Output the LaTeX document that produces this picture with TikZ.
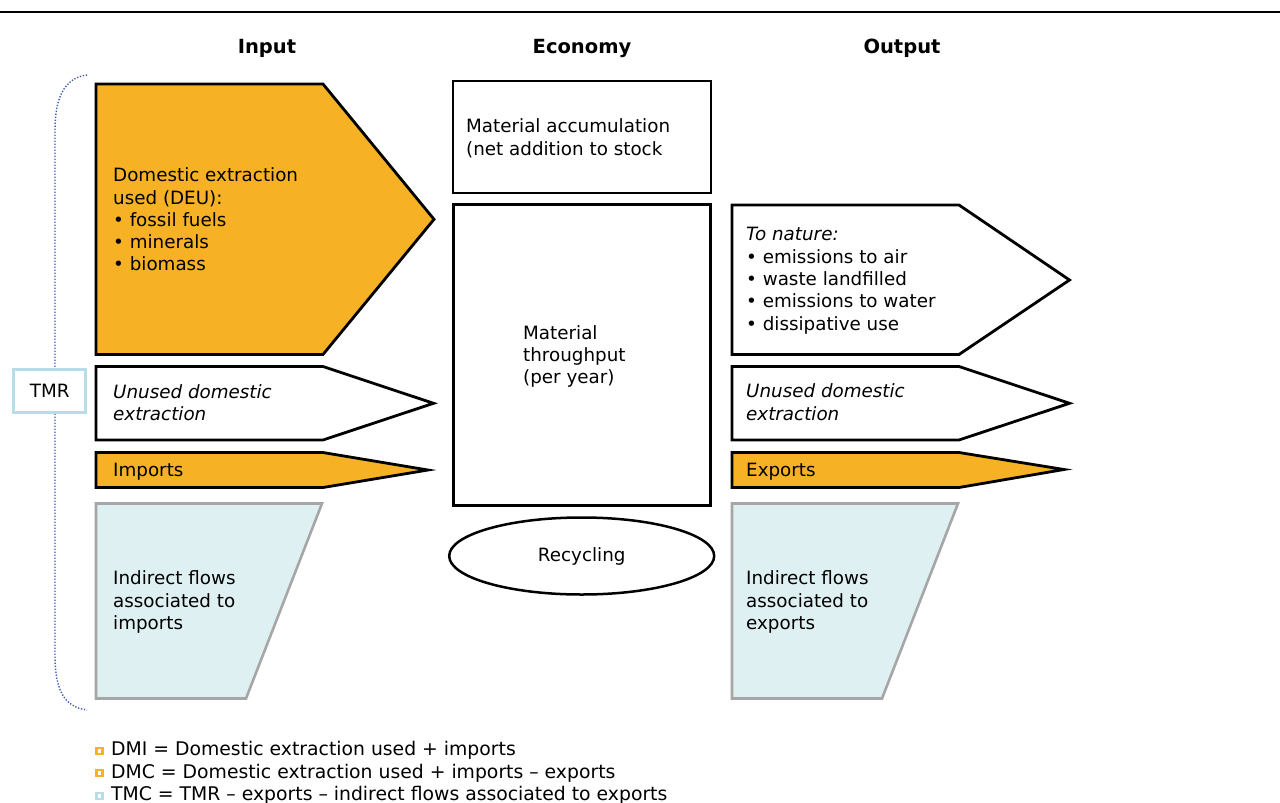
\documentclass[tikz,border=0pt]{standalone}
\usepackage{fontspec}
\setmainfont{DejaVu Sans}
\begin{document}
\begin{tikzpicture}[x=1pt,y=-1pt]
		\tikzstyle{every node}=[font=\fontsize{18.3}{22.3}\selectfont, inner sep=0pt]
		\tikzstyle{orangeflow}=[draw=black, line width=2.8pt, fill={rgb,255:red,246; green,178; blue,36}]
		\tikzstyle{whiteflow}=[draw=black, line width=2.8pt, fill=white]
		\tikzstyle{indirectflow}=[draw={rgb,255:red,166; green,166; blue,166}, line width=2.6pt, fill={rgb,255:red,223; green,240; blue,242}]
		\tikzstyle{flowtext}=[anchor=base west, align=left]
		\tikzstyle{flowitalic}=[anchor=base west, align=left, font=\fontsize{18.3}{22.3}\selectfont\itshape]
		\tikzstyle{heading}=[anchor=base, font=\fontsize{19.5}{22.3}\selectfont\bfseries]
		\tikzstyle{legendtext}=[anchor=base west, font=\fontsize{18.8}{23}\selectfont]
		\useasboundingbox (0,0) rectangle (1280,803);
		\draw [line width=1.5pt] (0,12) -- (1280,12);
		\node [heading] (input) at (267,53.5) {Input};
		\node [heading] (economy) at (582,53.5) {Economy};
		\node [heading] (output) at (902,53.5) {Output};
		\draw [line width=1.4pt, dash pattern=on 1.3pt off 1.7pt, color={rgb,255:red,64; green,88; blue,176}] (87,75) .. controls (63,78) and (55,100) .. (55,130) -- (55,655) .. controls (55,688) and (63,707) .. (87,710);
		\node [draw={rgb,255:red,183; green,222; blue,232}, line width=2.5pt, fill=white, minimum width=72pt, minimum height=43pt] (tmr) at (49.7,390.8) {TMR};
		\draw [orangeflow] (96,84) -- (323,84) -- (434,219.3) -- (323,354.5) -- (96,354.5) -- cycle;
		\draw [whiteflow] (96,366.5) -- (323,366.5) -- (433.5,403.3) -- (323,440) -- (96,440) -- cycle;
		\draw [orangeflow] (96,452.5) -- (323,452.5) -- (428,470) -- (323,487.5) -- (96,487.5) -- cycle;
		\draw [indirectflow] (96,503.5) -- (322,503.5) -- (246,698.5) -- (96,698.5) -- cycle;
		\node [flowtext] (deu) at (113,270.9) {Domestic extraction\\used (DEU):\\• fossil fuels\\• minerals\\• biomass};
		\node [flowitalic] (unusedin) at (113,420.7) {Unused domestic\\extraction};
		\node [flowtext] (imports) at (113,476.7) {Imports};
		\node [flowtext] (indirectin) at (113,629.3) {Indirect flows\\associated to\\imports};
		\draw [line width=2pt] (452.5,80.5) rectangle (711,193);
		\node [flowtext] (accumulation) at (466,155) {Material accumulation\\(net addition to stock};
		\draw [line width=3.8pt] (453.5,204.5) rectangle (710.5,505.5);
		\node [flowtext] (throughput) at (523,383.7) {Material\\throughput\\(per year)};
		\draw [line width=2.5pt] (581.7,556) ellipse (132.5 and 38.5);
		\node [anchor=base] (recycling) at (581.7,561.7) {Recycling};
		\draw [whiteflow] (732,205) -- (959,205) -- (1069.5,280) -- (959,354.5) -- (732,354.5) -- cycle;
		\draw [whiteflow] (732,366.5) -- (959,366.5) -- (1069.5,403.3) -- (959,440) -- (732,440) -- cycle;
		\draw [orangeflow] (732,452.5) -- (959,452.5) -- (1064,469.5) -- (959,487.5) -- (732,487.5) -- cycle;
		\draw [indirectflow] (732,503.5) -- (958,503.5) -- (882,698.5) -- (732,698.5) -- cycle;
		\node [flowtext] (nature) at (746,330) {\textit{To nature:}\\• emissions to air\\• waste landfilled\\• emissions to water\\• dissipative use};
		\node [flowitalic] (unusedout) at (746,420) {Unused domestic\\extraction};
		\node [flowtext] (exports) at (746,476) {Exports};
		\node [flowtext] (indirectout) at (746,629.3) {Indirect flows\\associated to\\exports};
		\draw [line width=2.5pt, color={rgb,255:red,246; green,178; blue,36}, fill=white] (96.5,748) rectangle (102.5,754);
		\draw [line width=2.5pt, color={rgb,255:red,246; green,178; blue,36}, fill=white] (96.5,770) rectangle (102.5,776);
		\draw [line width=2.5pt, color={rgb,255:red,183; green,222; blue,232}, fill=white] (96.5,793) rectangle (102.5,799);
		\node [legendtext] (dmi) at (111,755.5) {DMI = Domestic extraction used + imports};
		\node [legendtext] (dmc) at (111,778.5) {DMC = Domestic extraction used + imports – exports};
		\node [legendtext] (tmc) at (111,800.5) {TMC = TMR – exports – indirect flows associated to exports};
		\end{tikzpicture}
\end{document}
